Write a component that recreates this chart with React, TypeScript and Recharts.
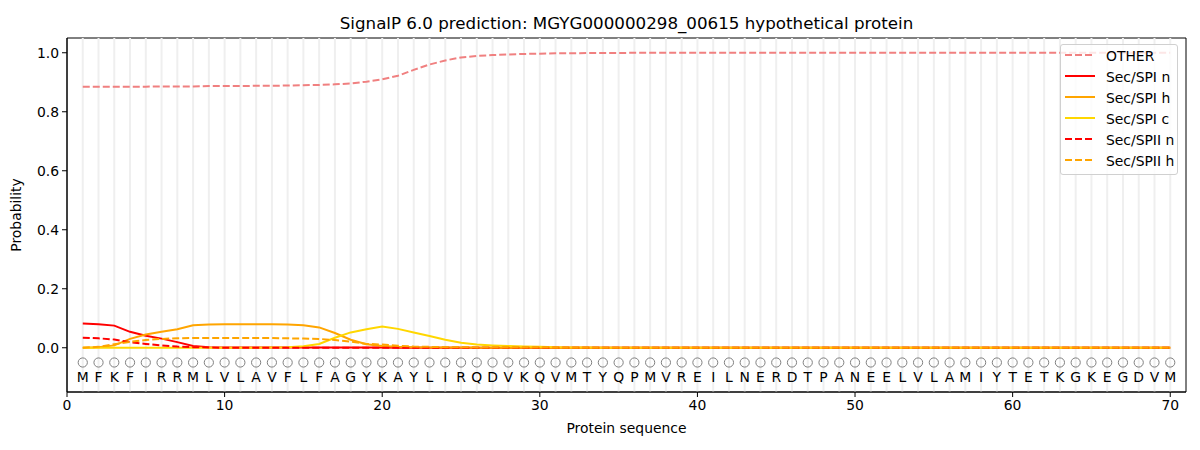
import { ReactElement } from 'react'
import { ComposedChart, Line, XAxis, YAxis, ReferenceLine, ReferenceArea } from 'recharts'

const residues = 'MFKFIRRMLVLAVFLFAGYKAYLIRQDVKQVMTYQPMVREILNERDTPANEELVLAMIYTETKGKEGDVM'.split('')

const other = [
    0.885, 0.885, 0.885, 0.885, 0.885, 0.886, 0.886, 0.886, 0.887, 0.887,
    0.887, 0.888, 0.888, 0.889, 0.89, 0.891, 0.893, 0.896, 0.902, 0.91,
    0.922, 0.942, 0.96, 0.974, 0.984, 0.989, 0.992, 0.994, 0.996, 0.997,
    0.998, 0.998, 0.999, 0.999, 0.999, 1.0, 1.0, 1.0, 1.0, 1.0,
    1.0, 1.0, 1.0, 1.0, 1.0, 1.0, 1.0, 1.0, 1.0, 1.0,
    1.0, 1.0, 1.0, 1.0, 1.0, 1.0, 1.0, 1.0, 1.0, 1.0,
    1.0, 1.0, 1.0, 1.0, 1.0, 1.0, 1.0, 1.0, 1.0, 1.0,
]
const spiN = [
    0.082, 0.08, 0.075, 0.054, 0.041, 0.031, 0.019, 0.006, 0.002, 0.001,
    0.001, 0.001, 0.001, 0.001, 0.001, 0.001, 0.001, 0.001, 0.001, 0.001,
    0, 0, 0, 0, 0, 0, 0, 0, 0, 0,
    0, 0, 0, 0, 0, 0, 0, 0, 0, 0,
    0, 0, 0, 0, 0, 0, 0, 0, 0, 0,
    0, 0, 0, 0, 0, 0, 0, 0, 0, 0,
    0, 0, 0, 0, 0, 0, 0, 0, 0, 0,
]
const spiH = [
    0, 0.002, 0.008, 0.03, 0.045, 0.054, 0.063, 0.076, 0.079, 0.08,
    0.08, 0.08, 0.08, 0.079, 0.076, 0.069, 0.05, 0.027, 0.012, 0.006,
    0.003, 0.002, 0.001, 0.001, 0.001, 0, 0, 0, 0, 0,
    0, 0, 0, 0, 0, 0, 0, 0, 0, 0,
    0, 0, 0, 0, 0, 0, 0, 0, 0, 0,
    0, 0, 0, 0, 0, 0, 0, 0, 0, 0,
    0, 0, 0, 0, 0, 0, 0, 0, 0, 0,
]
const spiC = [
    0, 0, 0, 0, 0, 0, 0, 0, 0, 0,
    0, 0, 0.001, 0.002, 0.005, 0.013, 0.034, 0.052, 0.063, 0.072,
    0.064, 0.052, 0.04, 0.027, 0.017, 0.011, 0.008, 0.006, 0.004, 0.003,
    0.002, 0.001, 0.001, 0, 0, 0, 0, 0, 0, 0,
    0, 0, 0, 0, 0, 0, 0, 0, 0, 0,
    0, 0, 0, 0, 0, 0, 0, 0, 0, 0,
    0, 0, 0, 0, 0, 0, 0, 0, 0, 0,
]
const spiiN = [
    0.034, 0.032, 0.028, 0.019, 0.013, 0.008, 0.004, 0.002, 0.001, 0,
    0, 0, 0, 0, 0, 0, 0, 0, 0, 0,
    0, 0, 0, 0, 0, 0, 0, 0, 0, 0,
    0, 0, 0, 0, 0, 0, 0, 0, 0, 0,
    0, 0, 0, 0, 0, 0, 0, 0, 0, 0,
    0, 0, 0, 0, 0, 0, 0, 0, 0, 0,
    0, 0, 0, 0, 0, 0, 0, 0, 0, 0,
]
const spiiH = [
    0, 0.003, 0.012, 0.02, 0.026, 0.03, 0.032, 0.033, 0.033, 0.033,
    0.033, 0.033, 0.033, 0.032, 0.031, 0.03, 0.026, 0.021, 0.013, 0.011,
    0.007, 0.004, 0.003, 0.002, 0.002, 0.001, 0.001, 0.001, 0.001, 0.001,
    0, 0, 0, 0, 0, 0, 0, 0, 0, 0,
    0, 0, 0, 0, 0, 0, 0, 0, 0, 0,
    0, 0, 0, 0, 0, 0, 0, 0, 0, 0,
    0, 0, 0, 0, 0, 0, 0, 0, 0, 0,
]

const xTicks = [0, 10, 20, 30, 40, 50, 60, 70]
const yTicks = [0, 0.2, 0.4, 0.6, 0.8, 1.0]

const series = [
    { key: 'other', name: 'OTHER', color: '#f08080', dash: '7 3' },
    { key: 'spiN', name: 'Sec/SPI n', color: '#ff0000', dash: undefined },
    { key: 'spiH', name: 'Sec/SPI h', color: '#ffa500', dash: undefined },
    { key: 'spiC', name: 'Sec/SPI c', color: '#ffd700', dash: undefined },
    { key: 'spiiN', name: 'Sec/SPII n', color: '#ff0000', dash: '7 3' },
    { key: 'spiiH', name: 'Sec/SPII h', color: '#ffa500', dash: '7 3' },
]

const rows = residues.map((aa, i) => ({
    pos: i + 1,
    aa,
    circleY: -0.05,
    letterY: -0.1,
    other: other[i],
    spiN: spiN[i],
    spiH: spiH[i],
    spiC: spiC[i],
    spiiN: spiiN[i],
    spiiH: spiiH[i],
}))

const font = '"DejaVu Sans", sans-serif'
const fs = 13.9

// legend box drawn over the chart, matplotlib style (upper right)
const ChartLegend = (): ReactElement => (
    <div
        style={{
            position: 'absolute',
            left: 1060,
            top: 44,
            width: 116,
            height: 129,
            border: '1px solid #d0d0d0',
            borderRadius: 3,
            background: 'rgba(255,255,255,0.8)',
        }}
    >
        <svg width={116} height={129} style={{ display: 'block' }}>
            {series.map((s, i) => (
                <g key={s.key}>
                    <line
                        x1={4}
                        x2={34}
                        y1={10 + i * 21}
                        y2={10 + i * 21}
                        stroke={s.color}
                        strokeWidth={2}
                        strokeDasharray={s.dash}
                    />
                    <text x={45} y={11 + i * 21} fontSize={fs} fontFamily={font} dominantBaseline="central" fill="#000">
                        {s.name}
                    </text>
                </g>
            ))}
        </svg>
    </div>
)

export default function App(): ReactElement {
    return (
        <div style={{ position: 'absolute', left: 0, top: 0, width: 1200, height: 450, background: '#fff', fontFamily: font }}>
            <div
                style={{
                    position: 'absolute',
                    left: 67,
                    width: 1119,
                    top: 12,
                    textAlign: 'center',
                    fontSize: 16.7,
                    lineHeight: '22px',
                    color: '#000',
                }}
            >
                SignalP 6.0 prediction: MGYG000000298_00615 hypothetical protein
            </div>
            <ComposedChart width={1200} height={450} data={rows} margin={{ top: 38, right: 14, bottom: 13, left: 0 }}>
                <XAxis
                    dataKey="pos"
                    type="number"
                    domain={[0, 71]}
                    ticks={xTicks}
                    tickSize={5}
                    tickMargin={3}
                    height={45}
                    stroke="#000"
                    tick={{ fill: '#000', fontSize: fs, fontFamily: font }}
                    label={{ value: 'Protein sequence', position: 'insideBottom', offset: 4, fill: '#000', fontSize: fs, fontFamily: font }}
                />
                <YAxis
                    type="number"
                    domain={[-0.15, 1.05]}
                    ticks={yTicks}
                    allowDataOverflow
                    tickFormatter={(v: number) => v.toFixed(1)}
                    tickSize={5}
                    tickMargin={3}
                    width={67}
                    stroke="#000"
                    tick={{ fill: '#000', fontSize: fs, fontFamily: font }}
                    label={{
                        value: 'Probability',
                        angle: -90,
                        position: 'insideLeft',
                        offset: 16,
                        fill: '#000',
                        fontSize: fs,
                        fontFamily: font,
                        style: { textAnchor: 'middle' },
                    }}
                />
                {rows.map((r) => (
                    <ReferenceLine key={`grid-${r.pos}`} x={r.pos} stroke="#efefef" strokeWidth={2} />
                ))}
                {series.map((s) => (
                    <Line
                        key={s.key}
                        type="linear"
                        dataKey={s.key}
                        name={s.name}
                        stroke={s.color}
                        strokeWidth={2}
                        strokeDasharray={s.dash}
                        dot={false}
                        activeDot={false}
                        isAnimationActive={false}
                    />
                ))}
                <Line
                    dataKey="circleY"
                    stroke="none"
                    isAnimationActive={false}
                    legendType="none"
                    activeDot={false}
                    dot={(p: any) => (
                        <circle key={`c-${p.index}`} cx={p.cx} cy={p.cy} r={4.6} fill="none" stroke="#808080" strokeWidth={1} />
                    )}
                />
                <Line
                    dataKey="letterY"
                    stroke="none"
                    isAnimationActive={false}
                    legendType="none"
                    activeDot={false}
                    dot={(p: any) => (
                        <text
                            key={`t-${p.index}`}
                            x={p.cx}
                            y={p.cy}
                            textAnchor="middle"
                            dominantBaseline="central"
                            fontSize={fs}
                            fontFamily={font}
                            fill="#000"
                        >
                            {p.payload.aa}
                        </text>
                    )}
                />
                <ReferenceArea x1={0} x2={71} y1={-0.15} y2={1.05} fill="none" stroke="#000" strokeWidth={1} />
            </ComposedChart>
            <ChartLegend />
        </div>
    )
}
